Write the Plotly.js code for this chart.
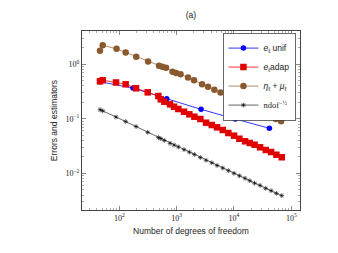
<!DOCTYPE html>
<html><head><meta charset="utf-8">
<script src="https://cdn.plot.ly/plotly-3.0.1.min.js"></script>
<style>html,body{margin:0;padding:0;background:#fff}#chart{width:338px;height:253px}</style>
</head><body><div id="chart"></div>
<script>
// uniform refinement: error
const unifNdof = [46, 173, 672, 2666, 10530, 41500];
const unifErr  = [0.48, 0.367, 0.234, 0.149, 0.0992, 0.067];

// adaptive refinement: error and ndof^-1/2 reference
const adapNdof = [46, 51.3, 87.6, 129, 196, 313, 480, 528, 610, 767, 901, 1071, 1346, 1666, 2037, 2593, 3260, 4100, 5071, 6376, 7985, 10040, 12420, 15620, 18870, 22880, 28550, 35890, 44410, 54950, 68240];
const adapErr  = [0.488, 0.511, 0.464, 0.430, 0.363, 0.306, 0.262, 0.228, 0.206, 0.1845, 0.1667, 0.1513, 0.135, 0.121, 0.1093, 0.0992, 0.0848, 0.0769, 0.0698, 0.0623, 0.0549, 0.049, 0.0431, 0.0387, 0.036, 0.0335, 0.030, 0.0268, 0.0246, 0.0219, 0.0197];
const refVals  = [0.147, 0.140, 0.108, 0.089, 0.0722, 0.0565, 0.0453, 0.0433, 0.0400, 0.0355, 0.0330, 0.0305, 0.0272, 0.0245, 0.0222, 0.0195, 0.0174, 0.0156, 0.0139, 0.0125, 0.0112, 0.0100, 0.0090, 0.0081, 0.0073, 0.0066, 0.0060, 0.0053, 0.0048, 0.0043, 0.0039];

// estimator eta + mu
const estNdof = [46, 51.3, 89.4, 129, 197, 317, 493, 563, 653, 848, 976, 1170, 1581, 2012, 2775, 3532, 4548, 5840, 7580, 9645, 12780, 16260, 20950, 27090, 34900, 44410, 53630, 66370];
const estVals = [1.776, 2.23, 1.925, 1.646, 1.378, 1.126, 0.943, 0.904, 0.866, 0.729, 0.692, 0.656, 0.573, 0.511, 0.431, 0.387, 0.340, 0.304, 0.262, 0.233, 0.205, 0.183, 0.158, 0.1408, 0.1225, 0.1093, 0.0992, 0.090];

const names = ['<i>e</i><sub>ℓ</sub> unif', '<i>e</i><sub>ℓ</sub>adap', '<i>η</i><sub>ℓ</sub> + <i>μ</i><sub>ℓ</sub>', '<span style="font-family:Liberation Serif">ndof<sup>−½</sup></span>'];
const xDecades = [100, 1000, 10000, 100000];
const xDecadeText = ['10<sup>2</sup>', '10<sup>3</sup>', '10<sup>4</sup>', '10<sup>5</sup>'];
const yDecades = [0.01, 0.1, 1];
const yDecadeText = ['10<sup>−2</sup>', '10<sup>−1</sup>', '10<sup>0</sup>'];

function minors(lo, hi) {
  const out = [];
  for (let e = lo; e <= hi; e++) for (let k = 2; k <= 9; k++) out.push(k * Math.pow(10, e));
  return out;
}

const traces = [
  {x: unifNdof, y: unifErr, name: names[0], mode: 'lines+markers',
   line: {color: '#0000ff', width: 0.8}, marker: {symbol: 'circle', size: 5.5, color: '#0000ff'}},
  {x: adapNdof, y: adapErr, name: names[1], mode: 'lines+markers',
   line: {color: '#ff0000', width: 0.8}, marker: {symbol: 'square', size: 6.5, color: '#e00000'}},
  {x: estNdof, y: estVals, name: names[2], mode: 'lines+markers',
   line: {color: '#a07048', width: 0.8}, marker: {symbol: 'circle', size: 6.5, color: '#8a5a2e'}},
  {x: adapNdof, y: refVals, name: names[3], mode: 'lines+markers',
   line: {color: '#000000', width: 0.6}, marker: {symbol: 'asterisk-open', size: 4, line: {color: '#000', width: 0.6}}}
];

const axisCommon = {
  type: 'log', showgrid: false, zeroline: false, showline: true, linecolor: '#444', linewidth: 1,
  mirror: 'ticks', ticks: 'inside', ticklen: 4, tickcolor: '#555', tickwidth: 0.7,
  tickfont: {family: 'Liberation Serif, DejaVu Serif, serif', size: 8, color: '#222'}
};

const layout = {
  width: 338, height: 253,
  margin: {l: 82, r: 38, t: 31, b: 43},
  paper_bgcolor: '#fff', plot_bgcolor: '#fff',
  font: {family: 'Liberation Sans, Arial, sans-serif', size: 8, color: '#222'},
  title: {text: '(a)', font: {size: 8.5, color: '#222'}, x: 0.565, xanchor: 'center', y: 0.94, yanchor: 'middle', yref: 'container'},
  showlegend: true,
  legend: {x: 0.98, xanchor: 'right', y: 0.99, yanchor: 'top', bgcolor: '#fff', bordercolor: '#444', borderwidth: 0.8,
           font: {size: 8.5, color: '#222'}, tracegroupgap: 0, itemwidth: 30},
  xaxis: Object.assign({}, axisCommon, {
    range: [1.349, 5.152], tickmode: 'array', tickvals: xDecades, ticktext: xDecadeText,
    minor: {tickmode: 'array', tickvals: minors(1, 5), ticks: 'inside', ticklen: 2, tickcolor: '#777', tickwidth: 0.6},
    title: {text: 'Number of degrees of freedom', font: {size: 8.5, color: '#222'}, standoff: 6}
  }),
  yaxis: Object.assign({}, axisCommon, {
    range: [-2.673, 0.611], tickmode: 'array', tickvals: yDecades, ticktext: yDecadeText,
    minor: {tickmode: 'array', tickvals: minors(-3, 0), ticks: 'inside', ticklen: 2, tickcolor: '#777', tickwidth: 0.6},
    title: {text: 'Errors and estimators', font: {size: 8.5, color: '#222'}, standoff: 6}
  })
};

Plotly.newPlot('chart', traces, layout, {staticPlot: true, displayModeBar: false});
</script></body></html>
